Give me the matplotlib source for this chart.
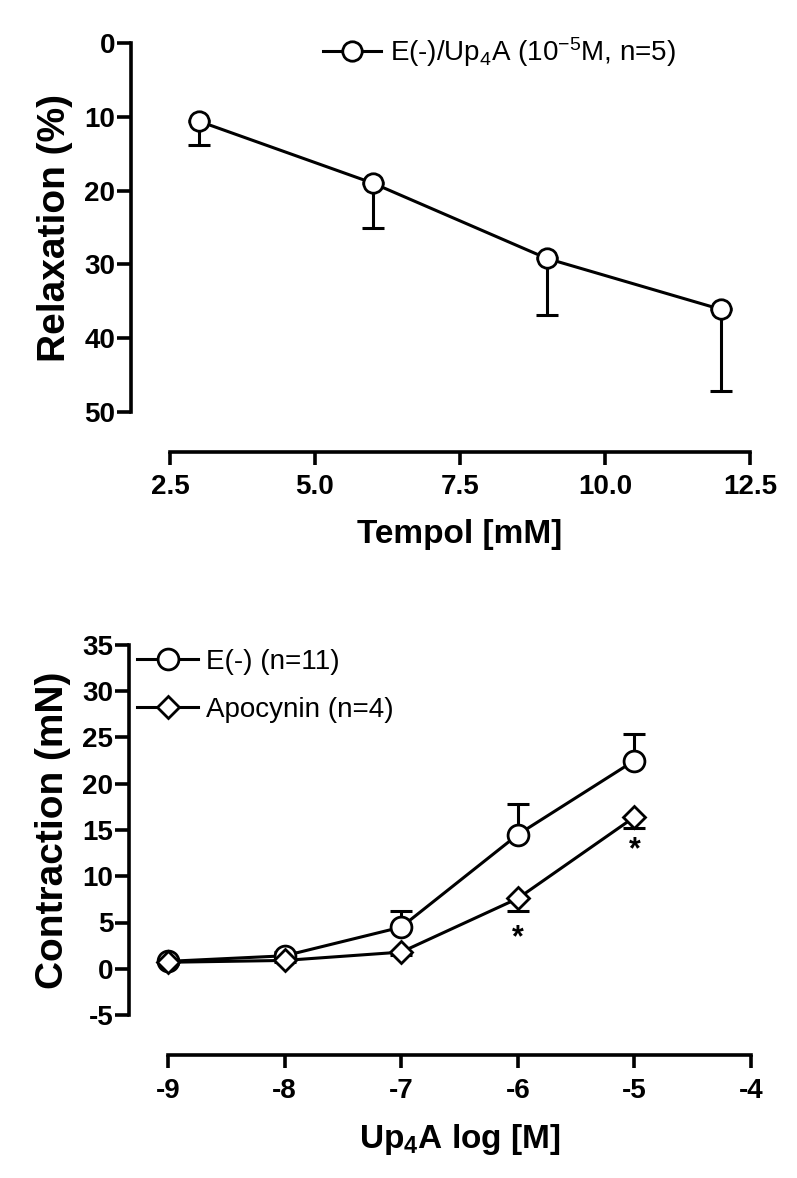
import matplotlib
matplotlib.use("Agg")
import matplotlib.pyplot as plt

plt.rcParams['font.family'] = ['Liberation Sans', 'DejaVu Sans']
plt.rcParams['mathtext.default'] = 'regular'

# top panel: relaxation vs tempol
tempol = [3, 6, 9, 12]
relax = [10.6, 19.0, 29.2, 36.1]
relax_err = [3.2, 6.0, 7.7, 11.1]

# bottom panel: concentration-response
logc = [-9, -8, -7, -6, -5]
e_minus = [0.8, 1.4, 4.5, 14.5, 22.5]
e_minus_err = [0.3, 0.4, 1.7, 3.3, 2.9]
apocynin = [0.7, 0.9, 1.8, 7.6, 16.4]
apocynin_err = [0.2, 0.2, 0.3, 1.4, 1.2]
star_x = [-6, -5]
star_y = [3.3, 12.8]

W, H = 797, 1178
fig = plt.figure(figsize=(W / 100, H / 100), dpi=100)


def axes_px(x0, x1, ytop, ybot):
    return fig.add_axes([x0 / W, 1 - ybot / H, (x1 - x0) / W, (ybot - ytop) / H])


def style(ax):
    for s in ['top', 'right']:
        ax.spines[s].set_visible(False)
    ax.spines['left'].set_position(('outward', 28))
    ax.spines['bottom'].set_position(('outward', 29))
    for s in ['left', 'bottom']:
        ax.spines[s].set_linewidth(2.6)
    ax.tick_params(axis='y', length=10, width=2.6, pad=1.5, labelsize=20)
    ax.tick_params(axis='x', length=9, width=2.6, pad=7, labelsize=20)
    for lab in ax.get_xticklabels() + ax.get_yticklabels():
        lab.set_fontweight('bold')


lw = 2.2
mew = 2.0

# ---- top ----
ax1 = axes_px(170, 750, 43, 412)
ax1.errorbar(tempol, relax, yerr=[[0] * 4, relax_err], fmt='none', ecolor='black',
             elinewidth=lw, capsize=8, capthick=lw, zorder=2)
ax1.plot(tempol, relax, '-o', color='black', lw=lw, ms=14, mfc='white', mew=mew,
         label='E(-)/Up$_4$A (10$^{-5}$M, n=5)', zorder=3, clip_on=False)
ax1.set_xlim(2.5, 12.5)
ax1.set_ylim(50, 0)
ax1.set_xticks([2.5, 5.0, 7.5, 10.0, 12.5])
ax1.set_xticklabels(['2.5', '5.0', '7.5', '10.0', '12.5'])
ax1.set_yticks([0, 10, 20, 30, 40, 50])
style(ax1)
ax1.set_xlabel('Tempol [mM]', fontsize=24, fontweight='bold', labelpad=13)
ax1.set_ylabel('Relaxation (%)', fontsize=28, fontweight='bold', labelpad=8)
ax1.legend(loc='center left', bbox_to_anchor=(323 / W, 1 - 52 / H),
           bbox_transform=fig.transFigure, frameon=False, fontsize=20,
           handlelength=2.1, handletextpad=0.3, borderpad=0, borderaxespad=0)

# ---- bottom ----
ax2 = axes_px(168, 751, 645, 1015)
ax2.errorbar(logc, e_minus, yerr=[[0] * 5, e_minus_err], fmt='none', ecolor='black',
             elinewidth=lw, capsize=8, capthick=lw, zorder=2)
ax2.errorbar(logc, apocynin, yerr=[apocynin_err, [0] * 5], fmt='none', ecolor='black',
             elinewidth=lw, capsize=8, capthick=lw, zorder=2)
ax2.plot(logc, e_minus, '-o', color='black', lw=lw, ms=15, mfc='white', mew=mew,
         label='E(-) (n=11)', zorder=3, clip_on=False)
ax2.plot(logc, apocynin, '-D', color='black', lw=lw, ms=11, mfc='white', mew=mew,
         label='Apocynin (n=4)', zorder=4, clip_on=False)
for sx, sy in zip(star_x, star_y):
    ax2.text(sx, sy, '*', ha='center', va='center', fontsize=22, fontweight='bold')
ax2.set_xlim(-9, -4)
ax2.set_ylim(-5, 35)
ax2.set_xticks([-9, -8, -7, -6, -5, -4])
ax2.set_yticks([-5, 0, 5, 10, 15, 20, 25, 30, 35])
style(ax2)
ax2.set_xticklabels(['-9', '-8', '-7', '-6', '-5', '-4'], fontweight='bold')
ax2.set_yticklabels(['-5', '0', '5', '10', '15', '20', '25', '30', '35'], fontweight='bold')
ax2.set_xlabel('Up$_4$A log [M]', fontsize=24, fontweight='bold', labelpad=13)
ax2.set_ylabel('Contraction (mN)', fontsize=28, fontweight='bold', labelpad=8)
ax2.legend(loc='center left', bbox_to_anchor=(137 / W, 1 - 686 / H),
           bbox_transform=fig.transFigure, frameon=False, fontsize=20,
           handlelength=2.2, handletextpad=0.3, borderpad=0, borderaxespad=0,
           labelspacing=0.8)

fig.savefig('out.png', dpi=100)
